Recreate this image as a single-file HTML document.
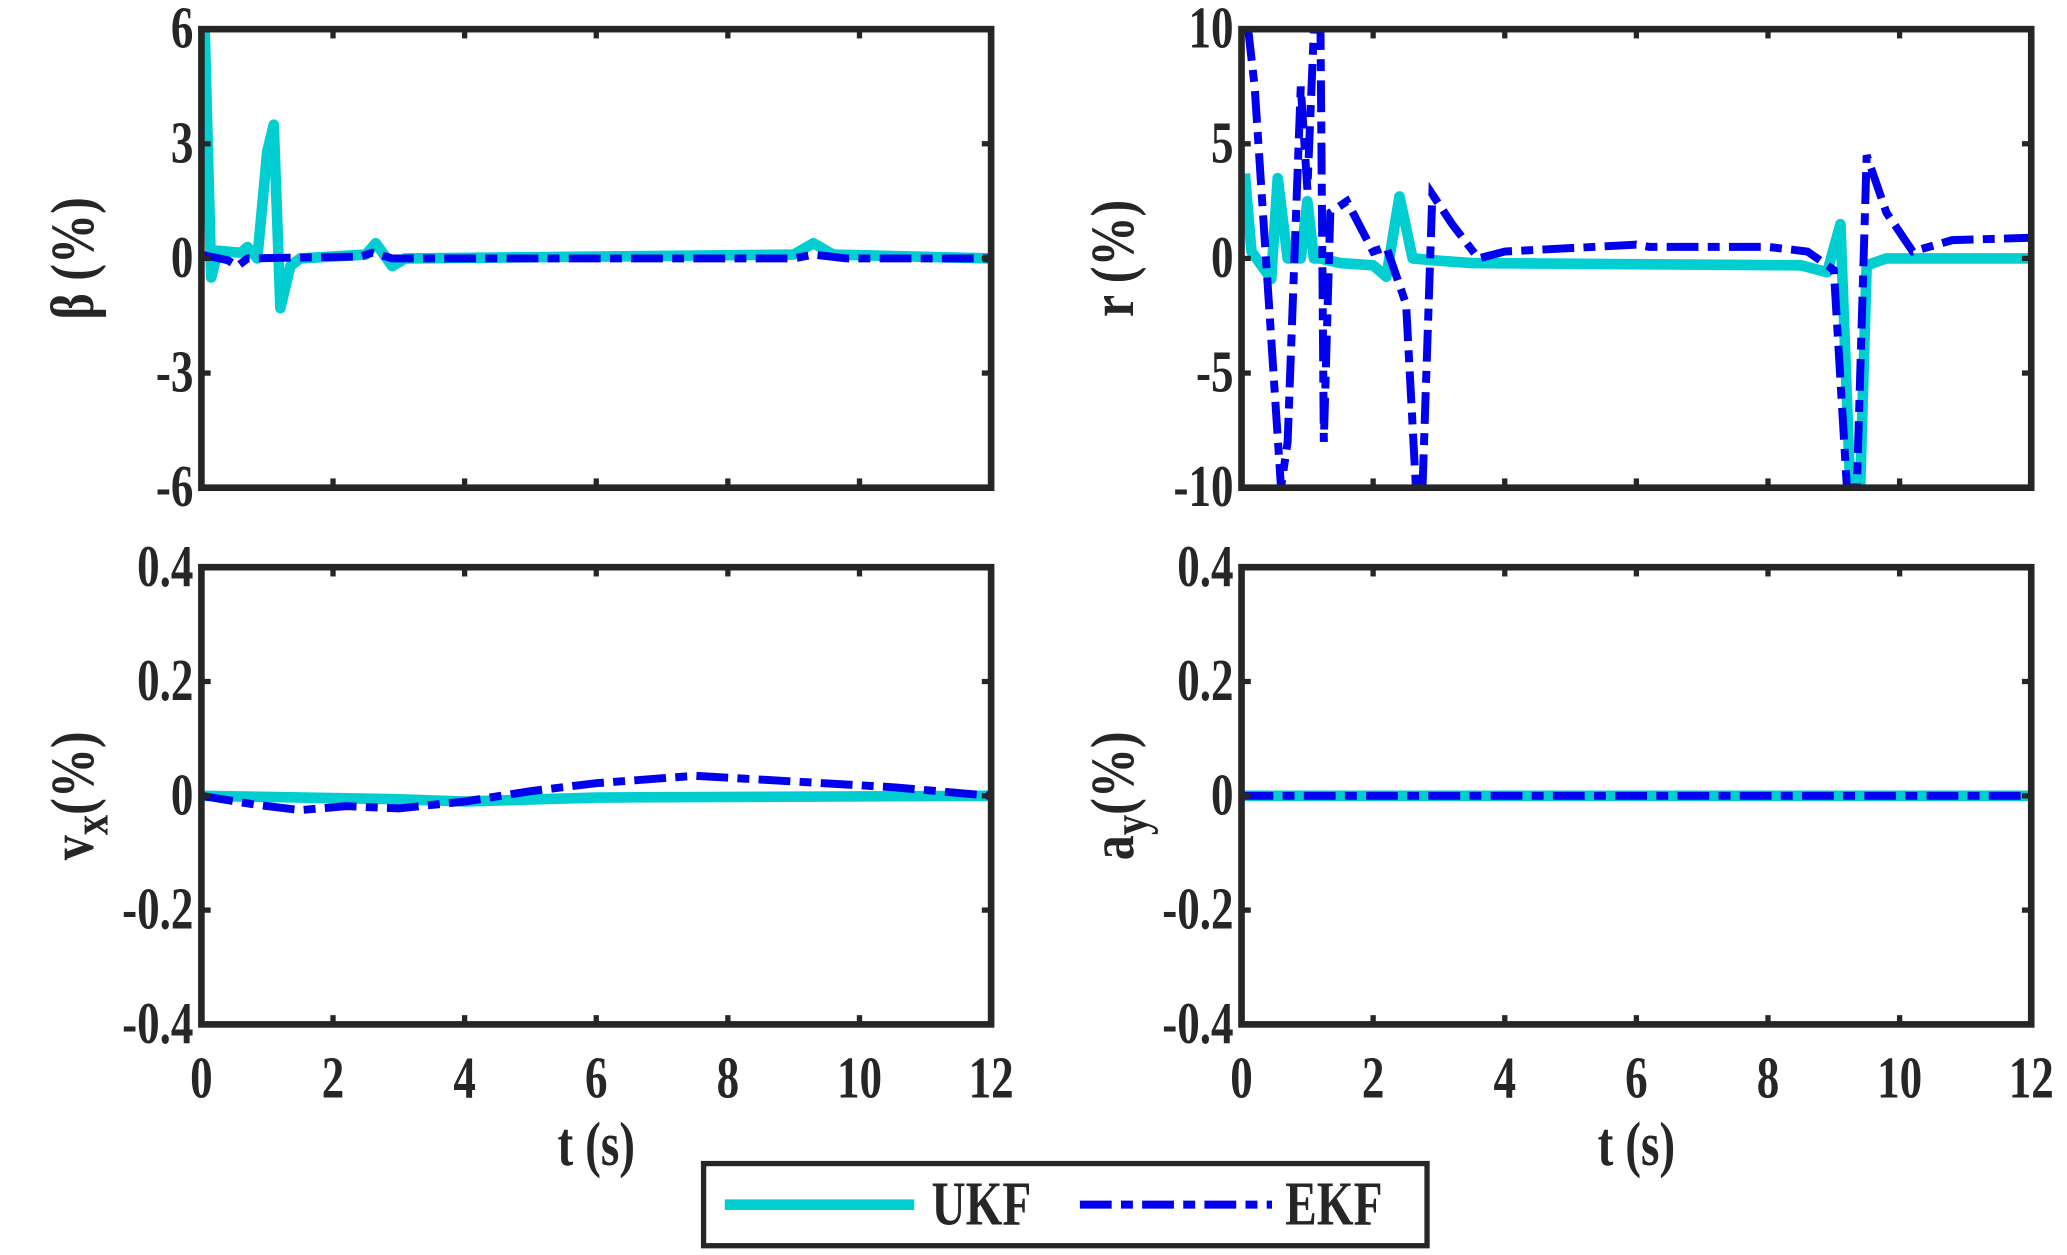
<!DOCTYPE html>
<html><head><meta charset="utf-8"><style>
html,body{margin:0;padding:0;background:#fff;}
svg{display:block;}
svg text{font-family:"Liberation Serif","Times New Roman",Times,"DejaVu Serif",serif !important;font-weight:bold;}
</style></head><body>
<svg id="s" width="2067" height="1255" viewBox="0 0 1560 947" preserveAspectRatio="none" xmlns="http://www.w3.org/2000/svg"></svg>
<script>
const S=document.getElementById('s');let h='';
const F='style="font-family:\'Liberation Serif\',\'Times New Roman\',\'DejaVu Serif\',serif;font-weight:bold" fill="#262626"';
function T(x,y,s,txt,anchor,rot){
 const tr=rot?`translate(${x},${y}) rotate(-90) scale(0.9,1.1)`:`translate(${x},${y}) scale(0.85,1.12)`;
 return `<text transform="${tr}" ${F} font-size="${s}" text-anchor="${anchor}">${txt}</text>`;
}
const panels=[
 {x0:152,x1:748,y0:22,y1:368,ymin:-6,ymax:6,yt:[6,3,0,-3,-6],lab:'β (%)',xl:false,
  u:[[0.05,6],[0.15,-0.5],[0.25,0.2],[0.6,0.15],[0.7,0.3],[0.85,0],[1.0,2.8],[1.1,3.5],[1.2,-1.3],[1.35,-0.2],[1.5,0],[2.5,0.1],[2.65,0.4],[2.9,-0.2],[3.1,0],[9.0,0.1],[9.3,0.4],[9.6,0.1],[12,0]],
  e:[[0,0.1],[0.4,-0.05],[0.55,-0.2],[0.7,0],[2.4,0.05],[2.6,0.15],[2.9,0],[9.0,0],[9.3,0.1],[9.8,0],[12,0]]},
 {x0:937,x1:1533,y0:22,y1:368,ymin:-10,ymax:10,yt:[10,5,0,-5,-10],lab:'r (%)',xl:false,
  u:[[0.05,3.7],[0.15,0.3],[0.45,-0.9],[0.55,3.5],[0.7,0],[0.9,0],[1.0,2.5],[1.1,0],[1.2,0],[1.5,-0.2],[2.0,-0.3],[2.2,-0.8],[2.4,2.7],[2.6,0],[3.0,-0.1],[3.5,-0.2],[8.5,-0.3],[8.9,-0.6],[9.1,1.5],[9.25,-10],[9.4,-10],[9.5,-0.3],[9.8,0],[12,0]],
  e:[[0.1,10],[0.2,7.5],[0.6,-10],[0.7,-8],[0.9,7.5],[1.0,3],[1.1,10],[1.2,10],[1.25,-8],[1.35,2],[1.6,2.5],[2.0,0.3],[2.2,0.5],[2.5,-2],[2.65,-10],[2.75,-10],[2.9,2.8],[3.2,1.5],[3.6,0],[4,0.3],[6,0.6],[6.2,0.5],[8,0.5],[8.6,0.3],[9.0,-0.5],[9.2,-10],[9.35,-10],[9.5,4.5],[9.8,2],[10.2,0.3],[10.8,0.8],[12,0.9]]},
 {x0:152,x1:748,y0:428,y1:773,ymin:-0.4,ymax:0.4,yt:[0.4,0.2,0,-0.2,-0.4],lab:'v',sub:'x',xl:true,
  u:[[0,0],[2,-0.004],[3,-0.006],[4,-0.01],[6,-0.003],[12,0]],
  e:[[0,0],[0.8,-0.015],[1.5,-0.025],[2.2,-0.018],[3,-0.022],[4,-0.01],[5,0.008],[6,0.022],[7.5,0.035],[9,0.025],[10.5,0.015],[12,0]]},
 {x0:937,x1:1533,y0:428,y1:773,ymin:-0.4,ymax:0.4,yt:[0.4,0.2,0,-0.2,-0.4],lab:'a',sub:'y',xl:true,
  u:[[0,0],[12,0]],e:[[0,0],[12,0]]}
];
const DA='stroke-dasharray="24,7,9,7"';
for(const p of panels){
 const X=t=>p.x0+(p.x1-p.x0)*t/12, Y=v=>p.y1-(p.y1-p.y0)*(v-p.ymin)/(p.ymax-p.ymin);
 const pts=a=>a.map(q=>X(q[0]).toFixed(1)+','+Y(q[1]).toFixed(1)).join(' ');
 h+=`<clipPath id="c${p.x0}${p.y0}"><rect x="${p.x0}" y="${p.y0}" width="${p.x1-p.x0}" height="${p.y1-p.y0}"/></clipPath>`;
 h+=`<g clip-path="url(#c${p.x0}${p.y0})"><polyline points="${pts(p.u)}" fill="none" stroke="#00CED1" stroke-width="8" stroke-linejoin="round"/>`;
 h+=`<polyline points="${pts(p.e)}" fill="none" stroke="#0000EE" stroke-width="6" ${DA}/></g>`;
 h+=`<rect x="${p.x0}" y="${p.y0}" width="${p.x1-p.x0}" height="${p.y1-p.y0}" fill="none" stroke="#262626" stroke-width="5"/>`;
 for(let t=2;t<12;t+=2){h+=`<line x1="${X(t)}" y1="${p.y1}" x2="${X(t)}" y2="${p.y1-7}" stroke="#262626" stroke-width="4"/><line x1="${X(t)}" y1="${p.y0}" x2="${X(t)}" y2="${p.y0+7}" stroke="#262626" stroke-width="4"/>`;}
 for(const v of p.yt){const y=Y(v);
  h+=`<line x1="${p.x0}" y1="${y}" x2="${p.x0+7}" y2="${y}" stroke="#262626" stroke-width="4"/><line x1="${p.x1}" y1="${y}" x2="${p.x1-7}" y2="${y}" stroke="#262626" stroke-width="4"/>`;
  h+=T(p.x0-6,y+14,40,v,'end',false);}
 if(p.xl){for(let t=0;t<=12;t+=2)h+=T(X(t),p.y1+55,40,t,'middle',false);
  h+=T((p.x0+p.x1)/2,p.y1+106,42,'t (s)','middle',false);}
 const cy=(p.y0+p.y1)/2, lx=p.x0-82;
 if(p.sub) h+=`<text transform="translate(${lx},${cy}) rotate(-90) scale(0.9,1.1)" ${F} font-size="42" text-anchor="middle">${p.lab}<tspan font-size="34" dy="10">${p.sub}</tspan><tspan dy="-10" font-size="42">(%)</tspan></text>`;
 else h+=T(lx,cy,42,p.lab,'middle',true);
}
h+=`<rect x="531" y="878" width="546" height="62" fill="#fff" stroke="#262626" stroke-width="4"/>`;
h+=`<line x1="547" y1="909" x2="690" y2="909" stroke="#00CED1" stroke-width="8"/>`+T(703,924,42,'UKF','start',false);
h+=`<line x1="815" y1="909" x2="960" y2="909" stroke="#0000EE" stroke-width="6" ${DA}/>`+T(970,924,42,'EKF','start',false);
S.innerHTML=h;
</script>
</body></html>
